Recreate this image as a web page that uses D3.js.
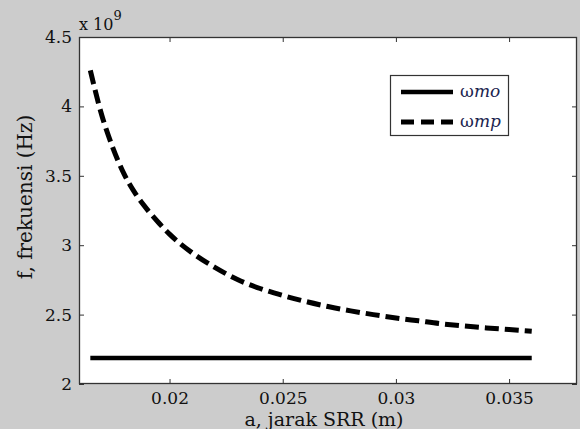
<!DOCTYPE html>
<html>
<head>
<meta charset="utf-8">
<script src="https://cdn.jsdelivr.net/npm/d3@7"></script>
<style>
  html, body { margin: 0; padding: 0; background: #cccccc; }
  svg { display: block; }
  text { font-family: "DejaVu Serif", "Liberation Serif", serif; fill: #111; }
</style>
</head>
<body>
<svg id="chart" width="580" height="429"></svg>
<script>
// ---- data ----
const aValues = [0.0165, 0.017, 0.0175, 0.018, 0.0185, 0.019, 0.0195, 0.020, 0.021, 0.022, 0.023, 0.024,
                 0.025, 0.026, 0.027, 0.028, 0.029, 0.030, 0.031, 0.032, 0.033, 0.034, 0.035, 0.036];
const fmp = [4.26, 3.94, 3.70, 3.51, 3.37, 3.26, 3.165, 3.08, 2.945, 2.84, 2.753, 2.688,
             2.638, 2.595, 2.558, 2.527, 2.50, 2.476, 2.455, 2.434, 2.418, 2.404, 2.392, 2.38];
const moA = [0.0165, 0.036];
const fmo = [2.187, 2.187];
const xTicks = [0.02, 0.025, 0.03, 0.035];
const xTickLabels = ["0.02", "0.025", "0.03", "0.035"];
const yTicks = [2, 2.5, 3, 3.5, 4, 4.5];
const yTickLabels = ["2", "2.5", "3", "3.5", "4", "4.5"];
const legendNames = [["ω", "mo"], ["ω", "mp"]];

// ---- layout ----
const L = 79, R = 577, T = 37, B = 384;
const svg = d3.select("#chart");
const x = d3.scaleLinear().domain([0.016, 0.038]).range([L, R]);
const y = d3.scaleLinear().domain([2, 4.5]).range([B, T]);

svg.append("rect").attr("x", 0).attr("y", 0).attr("width", 580).attr("height", 429).attr("fill", "#cccccc");
svg.append("rect").attr("x", L).attr("y", T).attr("width", R - L).attr("height", B - T).attr("fill", "#ffffff");

// axes with inward ticks
const tickLen = 5;
const bottomAxis = d3.axisBottom(x).tickValues(xTicks).tickSize(-tickLen).tickPadding(8)
  .tickFormat((d, i) => xTickLabels[i]);
const topAxis = d3.axisTop(x).tickValues(xTicks).tickSize(-tickLen).tickFormat("");
const leftAxis = d3.axisLeft(y).tickValues(yTicks).tickSize(-tickLen).tickPadding(7)
  .tickFormat((d, i) => yTickLabels[i]);
const rightAxis = d3.axisRight(y).tickValues(yTicks).tickSize(-tickLen).tickFormat("");

function style(g) {
  g.select(".domain").remove();
  g.selectAll(".tick line").attr("stroke", "#333").attr("stroke-width", 1);
  g.selectAll(".tick text").attr("font-family", "DejaVu Serif").attr("font-size", 17).attr("fill", "#111");
}
svg.append("g").attr("transform", `translate(0,${B})`).call(bottomAxis).call(style);
svg.append("g").attr("transform", `translate(0,${T})`).call(topAxis).call(style);
svg.append("g").attr("transform", `translate(${L},0)`).call(leftAxis).call(style);
svg.append("g").attr("transform", `translate(${R},0)`).call(rightAxis).call(style);

// plot border
svg.append("rect").attr("x", L + 0.5).attr("y", T + 0.5).attr("width", R - L - 1).attr("height", B - T - 1)
  .attr("fill", "none").attr("stroke", "#333").attr("stroke-width", 1.3);

// lines
const lineMp = d3.line().x((d, i) => x(aValues[i])).y(d => y(d)).curve(d3.curveMonotoneX);
const lineMo = d3.line().x((d, i) => x(moA[i])).y(d => y(d));
svg.append("path").attr("d", lineMo(fmo)).attr("fill", "none").attr("stroke", "#000").attr("stroke-width", 4.5);
svg.append("path").attr("d", lineMp(fmp)).attr("fill", "none").attr("stroke", "#000").attr("stroke-width", 5)
  .attr("stroke-dasharray", "14,6");

// exponent
const ex = svg.append("text").attr("x", 79).attr("y", 30).attr("font-size", 16);
ex.append("tspan").text("x 10");
ex.append("tspan").attr("dy", -10).attr("font-size", 13).text("9");

// axis labels
svg.append("text").attr("x", (L + R) / 2 - 4).attr("y", 426).attr("text-anchor", "middle")
  .attr("font-size", 19).text("a, jarak SRR (m)");
svg.append("text").attr("transform", `translate(32,${197}) rotate(-90)`).attr("text-anchor", "middle")
  .attr("font-size", 20).text("f, frekuensi (Hz)");

// legend
const lg = svg.append("g");
lg.append("rect").attr("x", 390.5).attr("y", 75.5).attr("width", 118).attr("height", 60)
  .attr("fill", "#fff").attr("stroke", "#333").attr("stroke-width", 1.2);
const legY = [92, 122];
legendNames.forEach((nm, i) => {
  lg.append("line").attr("x1", 401).attr("x2", 453).attr("y1", legY[i]).attr("y2", legY[i])
    .attr("stroke", "#000").attr("stroke-width", i === 0 ? 4.5 : 5)
    .attr("stroke-dasharray", i === 0 ? null : "13,7");
  const t = lg.append("text").attr("x", 460).attr("y", legY[i] + 5).attr("font-size", 17)
    .attr("font-family", "Liberation Serif").style("fill", "#1c2550");
  t.append("tspan").text(nm[0]);
  t.append("tspan").attr("font-style", "italic").text(nm[1]);
});
</script>
</body>
</html>
